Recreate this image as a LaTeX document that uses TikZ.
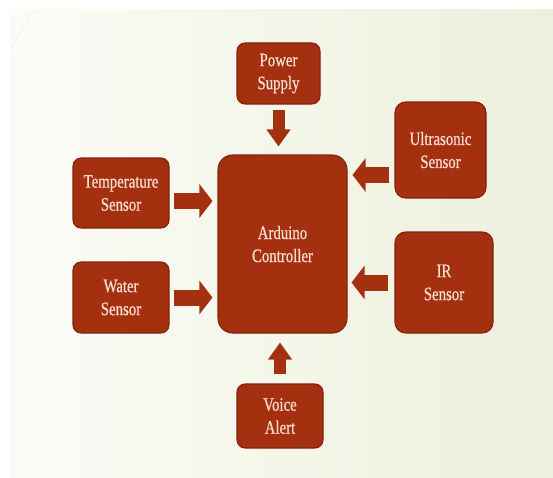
\documentclass[tikz,border=0pt]{standalone}
\usepackage{fontspec}
\setmainfont{Liberation Serif}
\newfontfamily\boxfont{Liberation Serif}[FakeStretch=0.78,FakeBold=0.6]
\usetikzlibrary{arrows.meta,positioning,calc}
\definecolor{brick}{RGB}{164,48,15}
\definecolor{brickedge}{RGB}{128,36,12}
\definecolor{boxtext}{RGB}{246,222,210}
\definecolor{slideL}{RGB}{252,252,247}
\definecolor{slideR}{RGB}{236,240,220}

\begin{document}
\begin{tikzpicture}
[x=0.75pt,y=-0.75pt,
every node/.style={fill=brick,draw=brickedge,thick,text=boxtext,align=center,
  font=\boxfont\fontsize{14.25}{17.25}\selectfont,rounded corners=6pt,inner sep=0pt},
harrow/.style={draw=brick,line width=12pt,-{Triangle[length=9.75pt,width=24.75pt]}},
varrow/.style={draw=brick,line width=9pt,-{Triangle[length=12.75pt,width=17.25pt]}}]
\useasboundingbox (0,0) rectangle (553,478);
\shade[left color=slideL,right color=slideR] (10,10) rectangle (553,478);
\draw[slideR!85!gray!45] (33,11) -- (10,50);

\node[minimum width=96.75pt,minimum height=133.5pt,rounded corners=11pt] (arduino) at (282.5,244) {Arduino\\Controller};
\node[minimum width=62.25pt,minimum height=45.75pt] (power) at (278.5,73.5) {Power\\Supply};
\node[minimum width=72pt,minimum height=52.5pt] (temp) at (121,193) {Temperature\\Sensor};
\node[minimum width=72pt,minimum height=53.25pt] (water) at (121,297.5) {Water\\Sensor};
\node[minimum width=68.25pt,minimum height=72pt,rounded corners=8pt] (ultra) at (440.5,150) {Ultrasonic\\Sensor};
\node[minimum width=73.5pt,minimum height=75.75pt,rounded corners=8pt] (ir) at (444,282.5) {IR\\Sensor};
\node[minimum width=64.5pt,minimum height=48pt] (voice) at (280,416) {Voice\\Alert};

\coordinate (t1) at ([yshift=-6pt]temp.east);
\coordinate (u1) at ([yshift=-18.75pt]ultra.west);
\draw[harrow,shorten <=3pt,shorten >=3.75pt] (t1) -- (t1 -| arduino.west);
\draw[harrow,shorten <=3pt,shorten >=3.75pt] (water.east) -- (water.east -| arduino.west);
\draw[harrow,shorten <=3.75pt,shorten >=3.75pt] (u1) -- (u1 -| arduino.east);
\draw[harrow,shorten <=4.5pt,shorten >=3pt] (ir.west) -- (ir.west -| arduino.east);
\draw[varrow,shorten <=3.75pt,shorten >=6pt] (power.south) -- (power.south |- arduino.north);
\draw[varrow,shorten <=6.75pt,shorten >=6.75pt] (voice.north) -- (voice.north |- arduino.south);
\end{tikzpicture}
\end{document}
